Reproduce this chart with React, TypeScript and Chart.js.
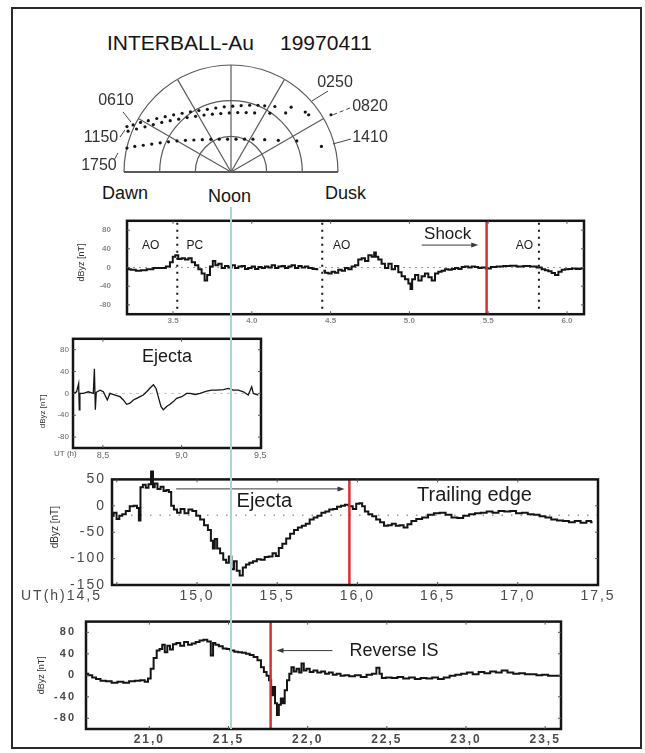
import React, { useEffect, useRef } from "react";
import { Chart, registerables } from "chart.js";

Chart.register(...registerables);

const FONT = '"Liberation Sans", Arial, Helvetica, sans-serif';

// ---------------- DATA ----------------
// Polar (orbit) plot: normalised positions (x: -1..1, y: 0..1) of the three orbit tracks
const polarTrackA: number[][] = [
  [-0.972, 0.425], [-0.915, 0.44], [-0.845, 0.463], [-0.773, 0.48], [-0.694, 0.5], [-0.615, 0.517],
  [-0.536, 0.534], [-0.457, 0.549], [-0.379, 0.563], [-0.3, 0.575], [-0.221, 0.586], [-0.142, 0.598],
  [-0.063, 0.609], [0.016, 0.615], [0.095, 0.621], [0.174, 0.624], [0.252, 0.624], [0.315, 0.618],
  [0.41, 0.612], [0.562, 0.606], [0.694, 0.56], [0.726, 0.534],
];
const polarTrackB: number[][] = [
  [-0.962, 0.382], [-0.883, 0.402], [-0.804, 0.422], [-0.726, 0.443], [-0.647, 0.463], [-0.568, 0.48],
  [-0.489, 0.494], [-0.41, 0.509], [-0.331, 0.52], [-0.252, 0.532], [-0.174, 0.54], [-0.095, 0.546],
  [-0.016, 0.552], [0.063, 0.555], [0.142, 0.555], [0.221, 0.552], [0.363, 0.549], [0.511, 0.552],
  [0.935, 0.535],
];
const polarTrackC: number[][] = [
  [-0.972, 0.224], [-0.899, 0.239], [-0.82, 0.25], [-0.741, 0.261], [-0.662, 0.273], [-0.584, 0.282],
  [-0.505, 0.29], [-0.426, 0.296], [-0.347, 0.299], [-0.268, 0.302], [-0.189, 0.305], [-0.11, 0.307],
  [-0.032, 0.307], [0.047, 0.307], [0.126, 0.307], [0.205, 0.307], [0.315, 0.302], [0.442, 0.296],
  [0.615, 0.29], [0.845, 0.239],
];
const polarRings = [1 / 3, 2 / 3, 1];
const polarSpokesDeg = [30, 60, 90, 120, 150];
const polarLabels = ["0610", "1150", "1750", "0250", "0820", "1410"];

// Panel 1 (Dawn / Noon / Dusk)
const p1Time = [
  3.212, 3.216, 3.248, 3.28, 3.312, 3.354, 3.396, 3.439, 3.47, 3.491,
  3.506, 3.523, 3.544, 3.565, 3.587, 3.608, 3.629, 3.65, 3.671, 3.692,
  3.709, 3.724, 3.745, 3.76, 3.777,
  3.798, 3.819, 3.84, 3.862, 3.883, 3.904, 3.925, 3.946, 3.967, 3.988,
  4.01, 4.031, 4.052, 4.073, 4.094, 4.115, 4.137, 4.158, 4.179, 4.2,
  4.221, 4.242, 4.263, 4.285, 4.306, 4.327, 4.348, 4.369, 4.401, 4.422,
  4.437,
  4.454, 4.475, 4.496, 4.517, 4.538, 4.559, 4.581, 4.602, 4.623, 4.644,
  4.665, 4.686, 4.708, 4.729, 4.75, 4.771, 4.782, 4.792, 4.813, 4.834,
  4.856, 4.877, 4.898, 4.919, 4.94, 4.961, 4.983, 5.004, 5.01, 5.025,
  5.046, 5.067, 5.088, 5.109, 5.131, 5.152, 5.173, 5.194, 5.215, 5.236,
  5.258, 5.279, 5.3, 5.321, 5.342, 5.363, 5.384, 5.406, 5.427, 5.448,
  5.469, 5.501, 5.533, 5.575, 5.617, 5.659, 5.702, 5.744, 5.786, 5.829,
  5.85, 5.871, 5.892, 5.913, 5.935, 5.956, 5.977, 5.998, 6.019, 6.045,
  6.07, 6.1,
];
const p1Val: (number | null)[] = [
  -3, -4, -5, -7, -6, -4, -1, -1, 2, 11,
  23, 26, 18, 20, 17, 20, 11, 5, -4, -13,
  -28, -16, 2, 14, 5,
  8, -1, 3, 0, 5, -1, 2, 3, -3, -1,
  2, -3, 1, -1, 2, 0, 5, -1, 2, 3,
  -1, 2, 5, -1, 3, 0, 2, -1, -3, -4,
  null,
  -7, -11, -13, -9, -11, -5, -7, -1, -4, 2,
  5, 17, 20, 14, 26, 23, 32, 23, 17, 8,
  -1, 8, -4, 3, -10, -19, -25, -34, -46, -25,
  -16, -28, -19, -13, -21, -28, -13, -9, -7, -4,
  -5, -3, -1, -3, 1, 2, 0, 2, 1, -1,
  0, -2, 1, 2, 3, 4, 2, 3, 2, 0,
  -4, -6, -8, -12, -16, -9, -5, -4, -3, -2,
  -3, -2,
];
const p1XTicks = [3.5, 4.0, 4.5, 5.0, 5.5, 6.0];
const p1YTicks = [80, 40, 0, -40, -80];
const p1Boundaries = [3.527, 4.447, 5.822];
const p1Shock = [5.49];

// Panel 2 (Ejecta, small)
const p2Time = [
  8.312, 8.333, 8.346, 8.35, 8.354, 8.376, 8.407, 8.439, 8.446, 8.452,
  8.458, 8.482, 8.503, 8.528, 8.545, 8.577, 8.609, 8.63, 8.651, 8.672,
  8.694, 8.715, 8.736, 8.757, 8.778, 8.8, 8.821, 8.838, 8.852, 8.869,
  8.884, 8.905, 8.927, 8.948, 8.969, 9.001, 9.033, 9.054, 9.086, 9.117,
  9.16, 9.192, 9.223, 9.266, 9.297, 9.329, 9.361, 9.393, 9.424, 9.446,
  9.456, 9.488,
];
const p2Val = [
  0, 3, 18, -30, 0, 0, 3, 0, 45, -30,
  2, 6, 3, -12, 0, -3, -6, -12, -20, -18,
  -12, -9, -6, -3, 3, 10, 16, 9, -6, -24,
  -30, -24, -20, -15, -9, -6, 0, 0, -2, 0,
  4, 6, 6, 7, 9, 6, 6, 3, -3, 12,
  0, -3,
];
const p2XTicks = [8.5, 9.0, 9.5];
const p2YTicks = [80, 40, 0, -40, -80];

// Panel 3 (Ejecta / Trailing edge)
const p3Time = [
  14.471, 14.49, 14.507, 14.524, 14.544, 14.568, 14.593, 14.617, 14.634, 14.641,
  14.654, 14.671, 14.69, 14.705, 14.722, 14.729, 14.744, 14.763, 14.783, 14.8,
  14.817, 14.832, 14.846, 14.866, 14.885, 14.91, 14.934, 14.959, 14.983, 15.007,
  15.032, 15.056, 15.08, 15.093, 15.105, 15.117, 15.134, 15.154, 15.173, 15.19,
  15.207, 15.222, 15.239, 15.256, 15.276, 15.295, 15.315, 15.337, 15.361, 15.385,
  15.41, 15.434, 15.459, 15.483, 15.5, 15.52, 15.544, 15.568, 15.593, 15.617,
  15.641, 15.666, 15.69, 15.715, 15.739, 15.763, 15.788, 15.812, 15.837, 15.861,
  15.885, 15.91, 15.934, 15.959, 15.983, 16.002, 16.022, 16.037, 16.056, 16.08,
  16.105, 16.129, 16.154, 16.178, 16.202, 16.227, 16.251, 16.276, 16.3, 16.324,
  16.349, 16.385, 16.422, 16.459, 16.495, 16.532, 16.568, 16.605, 16.641, 16.678,
  16.715, 16.751, 16.788, 16.824, 16.861, 16.898, 16.934, 16.971, 17.007, 17.044,
  17.08, 17.117, 17.154, 17.19, 17.227, 17.263, 17.3, 17.337, 17.373, 17.41,
  17.446, 17.466,
];
const p3Val = [
  -19, -13, -25, -19, -16, -10, -1, 0, -4, -28,
  35, 40, 34, 41, 65, 35, 42, 32, 36, 28,
  30, 26, 0, -7, -13, -6, -14, -7, -10, -19,
  -26, -37, -46, -66, -81, -63, -81, -90, -102, -108,
  -96, -120, -105, -123, -132, -117, -111, -108, -105, -101,
  -102, -97, -96, -90, -95, -80, -72, -62, -53, -46,
  -41, -38, -34, -26, -22, -19, -13, -11, -7, -6,
  -2, 0, 2, -1, -6, 4, 5, -1, -11, -16,
  -20, -26, -31, -38, -37, -34, -38, -37, -41, -35,
  -29, -25, -22, -17, -14, -13, -17, -22, -23, -19,
  -16, -14, -13, -11, -13, -10, -11, -10, -14, -13,
  -16, -17, -20, -22, -26, -28, -29, -31, -29, -32,
  -29, -31,
];
const p3XTicks = [14.5, 15.0, 15.5, 16.0, 16.5, 17.0, 17.5];
const p3YTicks = [50, 0, -50, -100, -150];
const p3TrailingEdge = [15.95];

// Panel 4 (Reverse IS)
const p4Time = [
  20.602, 20.627, 20.651, 20.676, 20.707, 20.744, 20.78, 20.817, 20.854, 20.89,
  20.927, 20.959, 20.983, 21.0, 21.017, 21.037, 21.056, 21.073, 21.09, 21.105,
  21.122, 21.139, 21.159, 21.183, 21.207, 21.232, 21.256, 21.28, 21.305, 21.329,
  21.354, 21.378, 21.398, 21.407, 21.427, 21.451, 21.476, 21.5, 21.524, 21.549,
  21.573, 21.598, 21.622, 21.646, 21.671, 21.695, 21.715, 21.732, 21.749, 21.763,
  21.776, 21.788, 21.8, 21.812, 21.824, 21.837, 21.849, 21.861, 21.878, 21.89,
  21.905, 21.92, 21.939, 21.954, 21.968, 21.983, 22.002, 22.024, 22.049, 22.073,
  22.098, 22.122, 22.146, 22.171, 22.195, 22.22, 22.244, 22.28, 22.317, 22.354,
  22.39, 22.422, 22.446, 22.461, 22.476, 22.512, 22.549, 22.585, 22.622, 22.659,
  22.695, 22.732, 22.768, 22.805, 22.841, 22.878, 22.915, 22.951, 22.988, 23.024,
  23.061, 23.098, 23.134, 23.171, 23.207, 23.244, 23.28, 23.317, 23.354, 23.39,
  23.427, 23.463, 23.5, 23.537, 23.573, 23.6,
];
const p4Val = [
  3, 0, -4, -7, -10, -11, -14, -12, -14, -11,
  -10, -9, -12, -6, 12, 32, 46, 49, 57, 43,
  55, 48, 58, 60, 55, 62, 57, 59, 62, 65,
  66, 63, 37, 60, 57, 54, 50, 49, 46, 44,
  43, 42, 40, 38, 34, 28, 15, 6, -1, -9,
  -37, -22, -52, -74, -55, -43, -52, -28, -9, 3,
  15, 7, 12, 5, 22, 9, 12, 6, 9, 5,
  7, 3, 5, 1, 3, -1, 0, -2, 0, -3,
  1, 3, 14, 3, -5, -4, -5, -3, -6, -4,
  -7, -5, -6, -4, -7, -4, -1, 1, 3, 5,
  2, 6, 4, 7, 5, 9, 5, 3, 4, 2,
  2, 0, 1, -1, -1, -1,
];
const p4XTicks = [21.0, 21.5, 22.0, 22.5, 23.0, 23.5];
const p4YTicks = [80, 40, 0, -40, -80];
const p4ReverseIS = [21.766];

// ---------------- STYLE / LAYOUT ----------------
const RED = "#d8302a";
const CYAN = "#a3d9d3";
const INK = "#141414";

const pts = (t: number[], v: (number | null)[]) => t.map((x, i) => ({ x, y: v[i] }));
const dot = (v: number) => v.toFixed(1);
const comma = (v: number) => v.toFixed(1).replace(".", ",");

function line(ctx: CanvasRenderingContext2D, x1: number, y1: number, x2: number, y2: number) {
  ctx.beginPath();
  ctx.moveTo(x1, y1);
  ctx.lineTo(x2, y2);
  ctx.stroke();
}

function makeDeco(p: any) {
  return {
    id: "deco",
    beforeDraw(chart: any) {
      chart.ctx.letterSpacing = p.letterSpacing || "0px";
    },
    beforeDatasetsDraw(chart: any) {
      const { ctx, chartArea: ca } = chart;
      const x = chart.scales.x;
      const y = chart.scales.y;
      ctx.letterSpacing = "0px";
      ctx.save();
      if (p.hLine) {
        ctx.strokeStyle = p.hLine.color;
        ctx.lineWidth = p.hLine.width;
        ctx.setLineDash(p.hLine.dash);
        const py = y.getPixelForValue(p.hLine.v);
        line(ctx, ca.left, py, ca.right, py);
      }
      ctx.strokeStyle = INK;
      ctx.lineWidth = 2;
      ctx.setLineDash([2, 5]);
      for (const v of p.dotted || []) {
        const px = x.getPixelForValue(v);
        line(ctx, px, ca.top + 2, px, ca.bottom);
      }
      ctx.restore();
    },
    afterDatasetsDraw(chart: any) {
      const { ctx, chartArea: ca } = chart;
      const x = chart.scales.x;
      const y = chart.scales.y;
      ctx.save();
      ctx.strokeStyle = RED;
      ctx.lineWidth = 2.5;
      for (const v of p.red || []) {
        const px = x.getPixelForValue(v);
        line(ctx, px, ca.top, px, ca.bottom);
      }
      // frame
      ctx.strokeStyle = INK;
      ctx.lineWidth = p.frameWidth || 2.5;
      ctx.strokeRect(ca.left, ca.top, ca.right - ca.left, ca.bottom - ca.top);
      // inward ticks
      ctx.lineWidth = 1;
      ctx.strokeStyle = "#555";
      for (const v of p.yTicks) {
        const py = y.getPixelForValue(v);
        if (py <= ca.top + 1 || py >= ca.bottom - 1) continue;
        line(ctx, ca.left, py, ca.left + 3, py);
        line(ctx, ca.right - 3, py, ca.right, py);
      }
      for (const v of p.xTicks) {
        const px = x.getPixelForValue(v);
        if (px <= ca.left + 1 || px >= ca.right - 1) continue;
        line(ctx, px, ca.bottom, px, ca.bottom - 3);
        line(ctx, px, ca.top, px, ca.top + 3);
      }
      // arrows
      ctx.strokeStyle = "#3a3a3a";
      ctx.fillStyle = "#3a3a3a";
      ctx.lineWidth = 1;
      for (const a of p.arrows || []) {
        const x1 = x.getPixelForValue(a.x1);
        const x2 = x.getPixelForValue(a.x2);
        const py = y.getPixelForValue(a.y);
        const d = Math.sign(x2 - x1);
        line(ctx, x1, py, x2 - d * 4, py);
        ctx.beginPath();
        ctx.moveTo(x2, py);
        ctx.lineTo(x2 - d * 7, py - 2.5);
        ctx.lineTo(x2 - d * 7, py + 2.5);
        ctx.closePath();
        ctx.fill();
      }
      // texts
      ctx.fillStyle = "#1a1a1a";
      ctx.textAlign = "center";
      ctx.textBaseline = "middle";
      for (const t of p.texts || []) {
        ctx.font = `${t.size}px ${FONT}`;
        ctx.fillText(t.t, x.getPixelForValue(t.x), y.getPixelForValue(t.y));
      }
      ctx.restore();
    },
    afterDraw(chart: any) {
      const { ctx, chartArea: ca } = chart;
      ctx.save();
      if (p.yTitle) {
        const yt = p.yTitle;
        ctx.translate(ca.left - yt.dx, (ca.top + ca.bottom) / 2 + yt.dy);
        ctx.rotate(-Math.PI / 2);
        ctx.font = `${yt.weight || "normal"} ${yt.size}px ${FONT}`;
        ctx.fillStyle = "#333";
        ctx.textAlign = "center";
        ctx.textBaseline = "middle";
        ctx.fillText(yt.text, 0, 0);
      }
      ctx.restore();
      ctx.save();
      for (const e of p.extra || []) {
        ctx.letterSpacing = e.spacing || "0px";
        ctx.font = `${e.weight || "normal"} ${e.size}px ${FONT}`;
        ctx.fillStyle = e.color || "#444";
        ctx.textAlign = e.align;
        ctx.textBaseline = "middle";
        ctx.fillText(e.t, e.px - p.canvas.left, e.py - p.canvas.top);
      }
      ctx.restore();
    },
  };
}

function panelConfig(p: any) {
  const c = p.canvas;
  const b = p.box;
  return {
    type: "line",
    data: {
      datasets: [
        {
          data: p.points,
          borderColor: INK,
          borderWidth: p.lineWidth,
          pointRadius: 0,
          stepped: p.stepped,
          spanGaps: false,
          clip: p.clip,
        },
      ],
    },
    options: {
      animation: false,
      responsive: false,
      events: [],
      layout: { padding: { left: 0, top: b.t - c.top, right: c.left + c.w - b.r, bottom: 0 } },
      plugins: { legend: { display: false }, tooltip: { enabled: false } },
      scales: {
        x: {
          type: "linear",
          min: p.xMin,
          max: p.xMax,
          grid: { display: false, drawTicks: false },
          border: { display: false },
          afterFit: (s: any) => {
            s.height = c.top + c.h - b.b;
          },
          afterBuildTicks: (s: any) => {
            s.ticks = p.xTicks.map((v: number) => ({ value: v }));
          },
          ticks: {
            autoSkip: false,
            maxRotation: 0,
            padding: p.xTickPad,
            color: p.tickColor,
            font: { family: FONT, size: p.xTickSize, weight: p.tickWeight },
            callback: (v: number) => (p.hideFirstX && v === p.xTicks[0] ? "" : p.xFmt(v)),
          },
        },
        y: {
          type: "linear",
          min: p.yMin,
          max: p.yMax,
          grid: { display: false, drawTicks: false },
          border: { display: false },
          afterFit: (s: any) => {
            s.width = b.l - c.left;
          },
          afterBuildTicks: (s: any) => {
            s.ticks = p.yTicks.map((v: number) => ({ value: v }));
          },
          ticks: {
            autoSkip: false,
            padding: p.yTickPad,
            color: p.tickColor,
            font: { family: FONT, size: p.yTickSize, weight: p.tickWeight },
            callback: (v: number) => String(v),
          },
        },
      },
    },
    plugins: [makeDeco(p)],
  };
}

const panel1 = {
  canvas: { left: 60, top: 200, w: 540, h: 135 },
  box: { l: 127, t: 207, r: 584, b: 317 },
  points: pts(p1Time, p1Val),
  xMin: 3.208, xMax: 6.108, yMin: -100, yMax: 100,
  xTicks: p1XTicks, yTicks: p1YTicks, xFmt: dot,
  xTickSize: 8, yTickSize: 8, tickWeight: "bold", tickColor: "#8a8a8a",
  xTickPad: 2, yTickPad: 16,
  lineWidth: 2, stepped: "middle", clip: 3,
  hLine: { v: 0, color: "#9a9a9a", width: 1.2, dash: [2, 4] },
  dotted: p1Boundaries, red: p1Shock,
  texts: [
    { t: "AO", x: 3.358, y: 46, size: 12 },
    { t: "PC", x: 3.639, y: 46, size: 12 },
    { t: "AO", x: 4.57, y: 46, size: 12 },
    { t: "AO", x: 5.73, y: 46, size: 12 },
    { t: "Shock", x: 5.243, y: 70, size: 17 },
  ],
  arrows: [{ x1: 5.078, x2: 5.437, y: 48 }],
  yTitle: { text: "dByz [nT]", dx: 45, dy: -5, size: 9 },
  extra: [],
};

const panel2 = {
  canvas: { left: 20, top: 330, w: 262, h: 135 },
  box: { l: 73, t: 338, r: 261, b: 448 },
  points: pts(p2Time, p2Val),
  xMin: 8.31, xMax: 9.505, yMin: -100, yMax: 100,
  xTicks: p2XTicks, yTicks: p2YTicks, xFmt: comma,
  xTickSize: 9, yTickSize: 8, tickWeight: "normal", tickColor: "#666",
  xTickPad: 2, yTickPad: 4,
  lineWidth: 1.3, stepped: false, clip: 3,
  hLine: { v: 0, color: "#c4c4c4", width: 1, dash: [3, 4] },
  dotted: [], red: [],
  texts: [{ t: "Ejecta", x: 8.908, y: 66, size: 18 }],
  arrows: [],
  yTitle: { text: "dByz [nT]", dx: 30, dy: 18, size: 8 },
  extra: [{ t: "UT (h)", px: 54, py: 454, size: 8, align: "left", color: "#555" }],
};

const panel3 = {
  canvas: { left: 15, top: 465, w: 610, h: 140 },
  box: { l: 112, t: 475, r: 598, b: 585 },
  points: pts(p3Time, p3Val),
  xMin: 14.47, xMax: 17.5, yMin: -150, yMax: 50,
  xTicks: p3XTicks, yTicks: p3YTicks, xFmt: comma, hideFirstX: true,
  xTickSize: 14, yTickSize: 14, tickWeight: "normal", tickColor: "#4a4a4a",
  xTickPad: 3, yTickPad: 6, letterSpacing: "2px",
  lineWidth: 2, stepped: "middle", clip: false,
  hLine: { v: -18, color: "#9a9a9a", width: 1.5, dash: [1.5, 8] },
  dotted: [], red: p3TrailingEdge,
  texts: [
    { t: "Ejecta", x: 15.42, y: 8, size: 20 },
    { t: "Trailing edge", x: 16.73, y: 20, size: 20 },
  ],
  arrows: [{ x1: 14.87, x2: 15.92, y: 32 }],
  yTitle: { text: "dByz [nT]", dx: 57, dy: -5, size: 10 },
  extra: [{ t: "UT(h)14,5", px: 102, py: 596, size: 14, align: "right", spacing: "2px", color: "#4a4a4a" }],
};

const panel4 = {
  canvas: { left: 15, top: 605, w: 575, h: 145 },
  box: { l: 86, t: 613, r: 561, b: 729 },
  points: pts(p4Time, p4Val),
  xMin: 20.6, xMax: 23.6, yMin: -100, yMax: 100,
  xTicks: p4XTicks, yTicks: p4YTicks, xFmt: comma,
  xTickSize: 12, yTickSize: 11, tickWeight: "bold", tickColor: "#4a4a4a",
  xTickPad: 3, yTickPad: 10, letterSpacing: "2px",
  lineWidth: 2, stepped: "middle", clip: 3,
  dotted: [], red: p4ReverseIS,
  texts: [{ t: "Reverse IS", x: 22.545, y: 46, size: 18 }],
  arrows: [{ x1: 22.156, x2: 21.803, y: 46 }],
  yTitle: { text: "dByz [nT]", dx: 44, dy: 0, size: 9 },
  extra: [],
};

// polar layout: label centres and leader lines, in normalised orbit coordinates
const polarLabelPos = [
  { x: -1.075, y: 0.664, l: [-1.009, 0.561, -0.935, 0.467], dash: false },
  { x: -1.215, y: 0.318, l: [-1.037, 0.327, -0.991, 0.393], dash: false },
  { x: -1.234, y: 0.056, l: [-1.093, 0.112, -1.056, 0.178], dash: false },
  { x: 0.972, y: 0.832, l: [0.907, 0.757, 0.757, 0.664], dash: false },
  { x: 1.299, y: 0.607, l: [1.112, 0.598, 0.925, 0.523], dash: true },
  { x: 1.299, y: 0.318, l: [1.121, 0.308, 0.953, 0.262], dash: false },
];

const polarDeco = {
  id: "polarDeco",
  beforeDatasetsDraw(chart: any) {
    const { ctx } = chart;
    const x = chart.scales.x;
    const y = chart.scales.y;
    const cx = x.getPixelForValue(0);
    const cy = y.getPixelForValue(0);
    ctx.save();
    ctx.strokeStyle = "#5a5a5a";
    ctx.lineWidth = 1.2;
    for (const r of polarRings) {
      const rx = x.getPixelForValue(r) - cx;
      const ry = cy - y.getPixelForValue(r);
      ctx.beginPath();
      ctx.ellipse(cx, cy, rx, ry, 0, Math.PI, 2 * Math.PI);
      ctx.stroke();
    }
    for (const d of polarSpokesDeg) {
      const a = (d * Math.PI) / 180;
      line(ctx, cx, cy, x.getPixelForValue(Math.cos(a)), y.getPixelForValue(Math.sin(a)));
    }
    ctx.lineWidth = 2;
    line(ctx, x.getPixelForValue(-1), cy, x.getPixelForValue(1), cy);
    ctx.restore();
  },
  afterDraw(chart: any) {
    const { ctx } = chart;
    const x = chart.scales.x;
    const y = chart.scales.y;
    ctx.save();
    ctx.font = `16px ${FONT}`;
    ctx.fillStyle = "#333";
    ctx.strokeStyle = "#444";
    ctx.lineWidth = 1;
    ctx.textAlign = "center";
    ctx.textBaseline = "middle";
    polarLabels.forEach((t, i) => {
      const lp = polarLabelPos[i];
      ctx.fillText(t, x.getPixelForValue(lp.x), y.getPixelForValue(lp.y));
      ctx.setLineDash(lp.dash ? [4, 3] : []);
      line(
        ctx,
        x.getPixelForValue(lp.l[0]),
        y.getPixelForValue(lp.l[1]),
        x.getPixelForValue(lp.l[2]),
        y.getPixelForValue(lp.l[3])
      );
    });
    ctx.restore();
  },
};

const polarCanvas = { left: 60, top: 50, w: 360, h: 136 };

function polarConfig() {
  const tracks = [polarTrackA, polarTrackB, polarTrackC];
  return {
    type: "scatter",
    data: {
      datasets: tracks.map((t) => ({
        data: t.map(([px, py]) => ({ x: px, y: py })),
        pointRadius: 1.6,
        backgroundColor: INK,
        borderWidth: 0,
        clip: false,
      })),
    },
    options: {
      animation: false,
      responsive: false,
      events: [],
      layout: { padding: { left: 64, right: 82, top: 15, bottom: 14 } },
      plugins: { legend: { display: false }, tooltip: { enabled: false } },
      scales: {
        x: { type: "linear", min: -1, max: 1, display: false },
        y: { type: "linear", min: 0, max: 1, display: false },
      },
    },
    plugins: [polarDeco],
  };
}

const abs = (l: number, t: number, extra: any = {}) => ({ position: "absolute" as const, left: l, top: t, ...extra });

export default function App() {
  const polarRef = useRef<HTMLCanvasElement>(null);
  const r1 = useRef<HTMLCanvasElement>(null);
  const r2 = useRef<HTMLCanvasElement>(null);
  const r3 = useRef<HTMLCanvasElement>(null);
  const r4 = useRef<HTMLCanvasElement>(null);

  useEffect(() => {
    const charts = [
      new Chart(polarRef.current as HTMLCanvasElement, polarConfig() as any),
      new Chart(r1.current as HTMLCanvasElement, panelConfig(panel1) as any),
      new Chart(r2.current as HTMLCanvasElement, panelConfig(panel2) as any),
      new Chart(r3.current as HTMLCanvasElement, panelConfig(panel3) as any),
      new Chart(r4.current as HTMLCanvasElement, panelConfig(panel4) as any),
    ];
    return () => charts.forEach((c) => c.destroy());
  }, []);

  const canvasEl = (ref: any, c: any) => (
    <canvas ref={ref} width={c.w} height={c.h} style={abs(c.left, c.top, { width: c.w, height: c.h })} />
  );

  const label = (text: string, l: number, cy: number, size: number) => (
    <div style={abs(l, cy - size / 2, { fontSize: size, lineHeight: `${size}px`, whiteSpace: "nowrap", color: "#141414" })}>
      {text}
    </div>
  );

  return (
    <div style={{ position: "absolute", left: 0, top: 0, width: 645, height: 753, background: "#fff", overflow: "hidden", fontFamily: FONT }}>
      <div style={abs(11, 7, { width: 631, height: 742, border: "2px solid #2a2a2a", boxSizing: "border-box" })} />
      {label("INTERBALL-Au", 107, 42, 21)}
      {label("19970411", 280, 42, 21)}
      {label("Dawn", 102, 193, 18)}
      {label("Noon", 208, 196, 18)}
      {label("Dusk", 325, 193, 18)}
      {canvasEl(polarRef, polarCanvas)}
      {canvasEl(r1, panel1.canvas)}
      {canvasEl(r2, panel2.canvas)}
      {canvasEl(r3, panel3.canvas)}
      {canvasEl(r4, panel4.canvas)}
      <div style={abs(230, 207, { width: 2, height: 522, background: CYAN })} />
    </div>
  );
}
